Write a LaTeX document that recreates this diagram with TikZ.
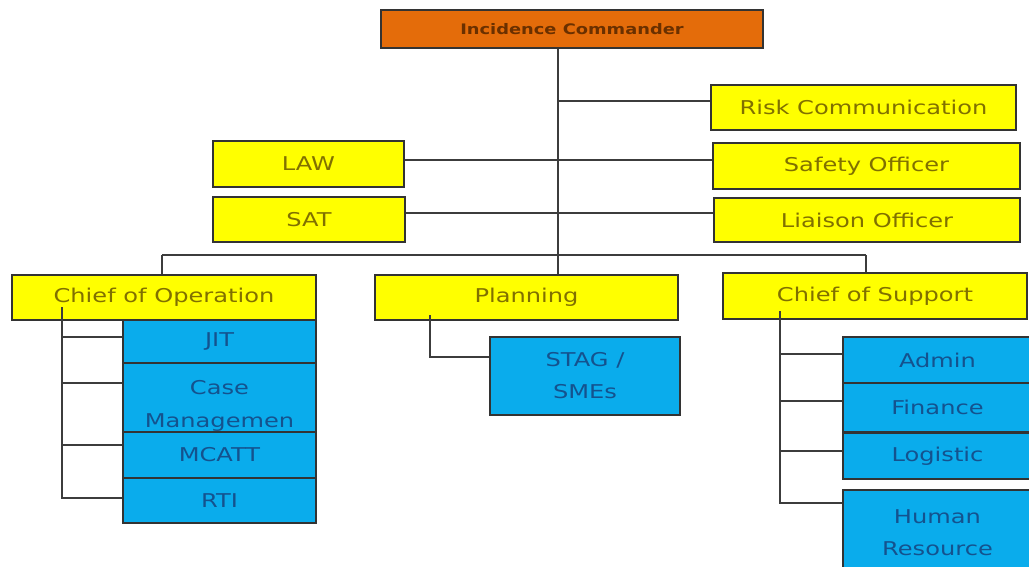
\documentclass[tikz,border=0pt]{standalone}
\usepackage{fontspec}
\newfontfamily\boxfont[FakeStretch=1.27]{DejaVu Sans}
\newfontfamily\headfont[FakeStretch=1.23]{DejaVu Sans Bold}
\definecolor{icfill}{HTML}{E46C0A}
\definecolor{ictext}{HTML}{6A3000}
\definecolor{yfill}{HTML}{FFFF00}
\definecolor{ytext}{HTML}{807000}
\definecolor{bfill}{HTML}{0AACEC}
\definecolor{btext}{HTML}{14528E}
\definecolor{wire}{HTML}{3C3C3C}
\tikzset{
  unit/.style={draw=wire!85!black, line width=1.6pt, inner sep=0pt, align=center,
    font=\boxfont\fontsize{19}{32}\selectfont},
  cmd/.style={unit, fill=icfill, text=ictext, font=\headfont\fontsize{14.5}{16}\selectfont},
  ybox/.style={unit, fill=yfill, text=ytext},
  bbox/.style={unit, fill=bfill, text=btext},
  link/.style={draw=wire, line width=2pt}
}
\begin{document}
\begin{tikzpicture}[x=1pt,y=-1pt]
\useasboundingbox (0,0) rectangle (1029,567);

% command and staff
\node[cmd, minimum width=382, minimum height=38] (ic) at (572,29) {Incidence Commander};
\node[ybox, minimum width=305, minimum height=45] (risk) at (863.5,107.5) {Risk Communication};
\node[ybox, minimum width=191, minimum height=46] (law) at (308.5,164) {LAW};
\node[ybox, minimum width=307, minimum height=46] (safety) at (866.5,166) {Safety Officer};
\node[ybox, minimum width=192, minimum height=45] (sat) at (309,219.5) {SAT};
\node[ybox, minimum width=306, minimum height=44] (liaison) at (867,220) {Liaison Officer};

% sections
\node[ybox, minimum width=304, minimum height=45] (cop) at (164,297.5) {Chief of Operation};
\node[ybox, minimum width=303, minimum height=45] (plan) at (526.5,297.5) {Planning};
\node[ybox, minimum width=304, minimum height=46] (cos) at (875,296) {Chief of Support};

% operation units
\node[bbox, minimum width=193, minimum height=43] (jit) at (219.5,341.5) {JIT};
\node[bbox, minimum width=193, minimum height=69] (case) at (219.5,397.5) {};
\node[text=btext, align=center, font=\boxfont\fontsize{19}{33}\selectfont] (casetext) at (219.5,406) {Case\\Managemen};
\node[bbox, minimum width=193, minimum height=46] (mcatt) at (219.5,455) {MCATT};
\node[bbox, minimum width=193, minimum height=45] (rti) at (219.5,500.5) {RTI};

% planning unit
\node[bbox, minimum width=190, minimum height=78] (stag) at (585,376) {STAG /\\SMEs};

% support units
\node[bbox, minimum width=189, minimum height=46] (admin) at (937.5,360) {Admin};
\node[bbox, minimum width=189, minimum height=49] (fin) at (937.5,407.5) {Finance};
\node[bbox, minimum width=189, minimum height=46] (log) at (937.5,456) {Logistic};
\node[bbox, minimum width=189, minimum height=85] (hr) at (937.5,532.5) {Human\\Resource};

% trunk and bus
\coordinate (bus) at (558,255);
\coordinate (busl) at (162,255);
\coordinate (busr) at (866,255);
\draw[link] (ic.south -| bus) -- (bus);
\draw[link] (busl) -- (busr);
\draw[link] (busl) -- (busl |- cop.north);
\draw[link] (bus) -- (bus |- plan.north);
\draw[link] (busr) -- (busr |- cos.north);

% staff links
\path ([yshift=6.5pt]risk.west) coordinate (rk);
\draw[link] (rk) -- (rk -| bus);
\path ([yshift=4pt]law.east) coordinate (lw);
\draw[link] (lw) -- (lw -| safety.west);
\path ([yshift=6.5pt]sat.east) coordinate (st);
\draw[link] (st) -- (st -| liaison.west);

% operation branch
\coordinate (opx) at (62,307);
\path ([yshift=4.5pt]jit.west) coordinate (jb)
      ([yshift=14.5pt]case.west) coordinate (cb)
      ([yshift=10pt]mcatt.west) coordinate (mb)
      ([yshift=2.5pt]rti.west) coordinate (rb);
\draw[link] (opx) |- (rb);
\draw[link] (jb -| opx) -- (jb);
\draw[link] (cb -| opx) -- (cb);
\draw[link] (mb -| opx) -- (mb);

% planning branch
\coordinate (plx) at (430,315);
\draw[link] (plx) |- ([yshift=19pt]stag.west);

% support branch
\coordinate (spx) at (780,311);
\path ([yshift=6pt]admin.west) coordinate (ab)
      ([yshift=6.5pt]fin.west) coordinate (fb)
      ([yshift=5pt]log.west) coordinate (lb)
      ([yshift=29.5pt]hr.west) coordinate (hb);
\draw[link] (spx) |- (hb);
\draw[link] (ab -| spx) -- (ab);
\draw[link] (fb -| spx) -- (fb);
\draw[link] (lb -| spx) -- (lb);
\end{tikzpicture}
\end{document}
